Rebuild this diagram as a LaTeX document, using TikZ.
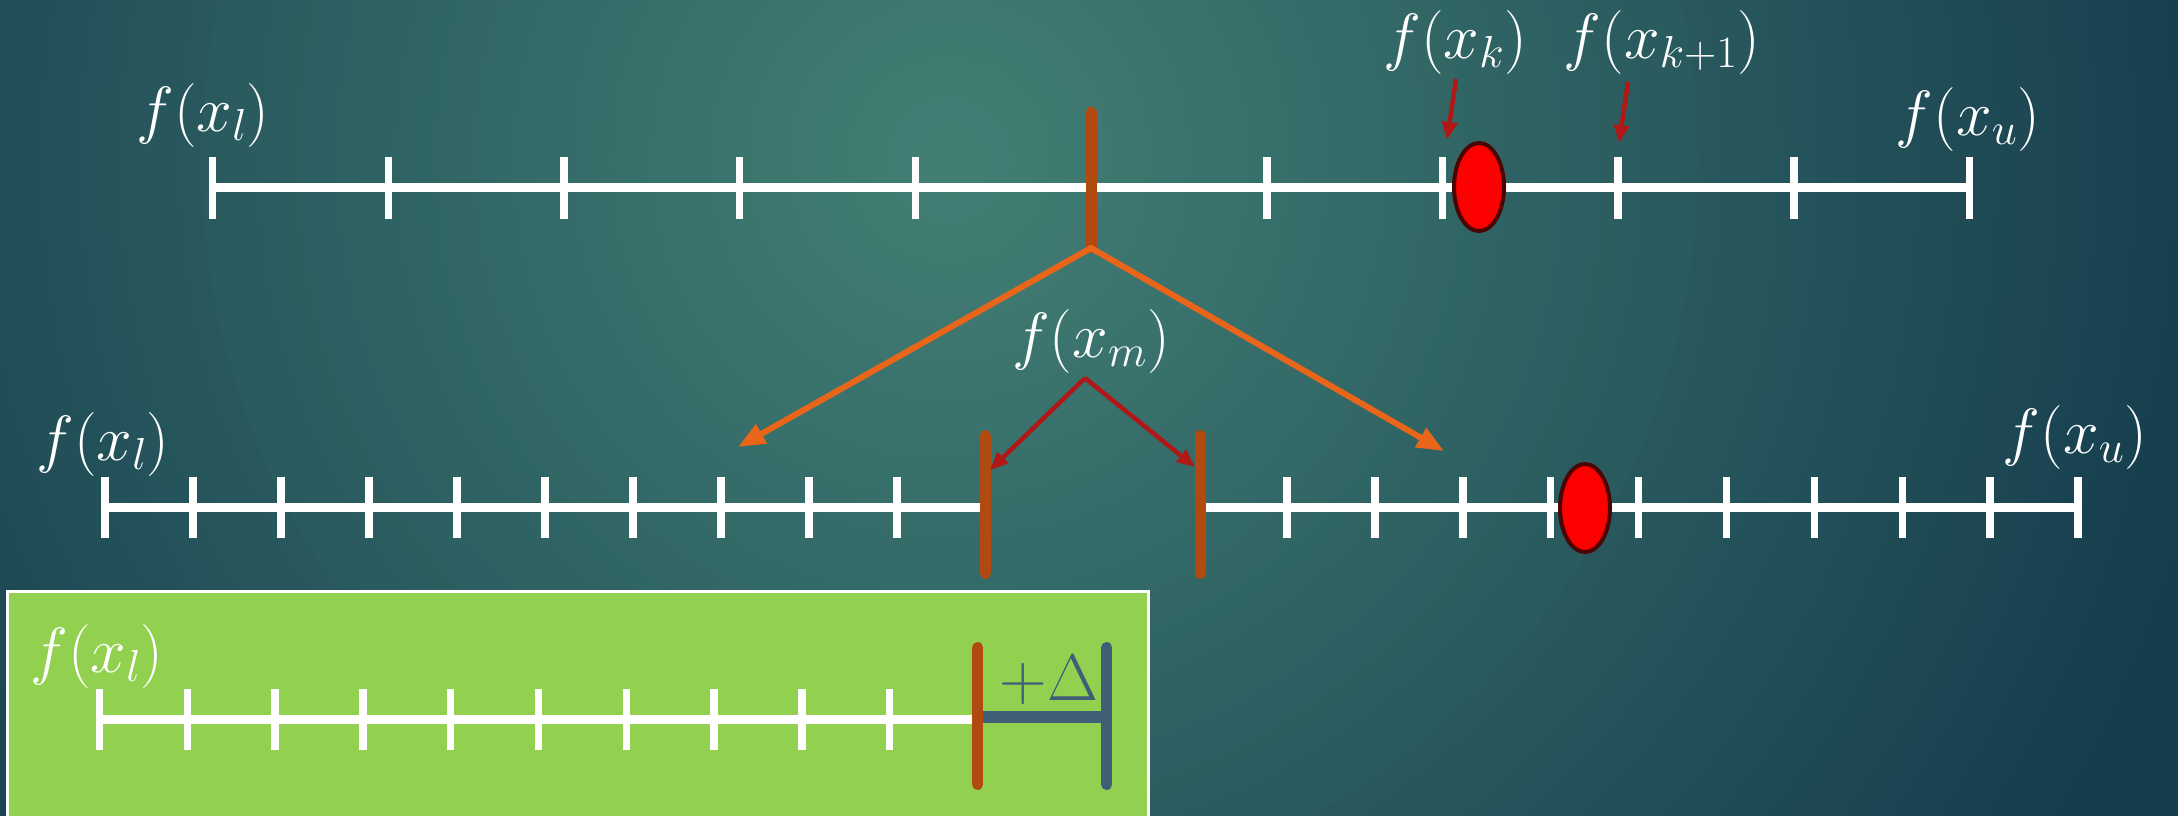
\documentclass[tikz,border=0pt]{standalone}
\usepackage{fix-cm}
\usetikzlibrary{arrows.meta,shapes.geometric}
\definecolor{bgin}{HTML}{427E74}
\definecolor{bgout}{HTML}{153D4D}
\definecolor{barorange}{HTML}{B04A10}
\definecolor{arroworange}{HTML}{E8651A}
\definecolor{darkred}{HTML}{B01818}
\definecolor{ellborder}{HTML}{4A0505}
\definecolor{boxgreen}{HTML}{92D050}
\definecolor{slate}{HTML}{3E5F75}
\tikzset{
  lab/.style={text=white, inner sep=0pt, font=\fontsize{64}{64}\selectfont},
  axisline/.style={draw=white, line width=8.5pt},
  tickmark/.style={draw=white, line width=7.5pt},
  midbar/.style={draw=barorange, line width=11pt, line cap=round},
  slatebar/.style={draw=slate, line width=11pt, line cap=round},
  splitarrow/.style={draw=arroworange, line width=6pt, line cap=round, -{Triangle[length=27pt,width=21pt]}},
  pointarrow/.style={draw=darkred, line width=4.5pt, -{Triangle[length=18pt,width=15pt]}},
  dot/.style={ellipse, draw=ellborder, fill=red, line width=4pt, minimum width=50pt, minimum height=88pt, inner sep=0pt},
}
\begin{document}
\begin{tikzpicture}[x=1pt,y=-1pt]
\useasboundingbox (0,0) rectangle (2178,815);
\begin{scope}
  \clip (-4,-4) rectangle (2182,819);
  \fill[bgout] (-4,-4) rectangle (2182,819);
  \foreach \i in {0,...,64}{
    \pgfmathsetmacro\rr{1300*(1-\i/66)}
    \pgfmathsetmacro\pp{100*\i/64}
    \fill[bgin!\pp!bgout] (950,160) circle[radius=\rr pt];
  }
  % green box
  \draw[draw=white, line width=3pt, fill=boxgreen] (7.7,591.7) rectangle (1148,840);
\end{scope}

% ---------- top row ----------
\coordinate (t0) at (212.6,187.5);
\coordinate (t1) at (1969.6,187.5);
\draw[axisline] (t0) -- (t1);
\foreach \k in {0,1,2,3,4,6,7,8,9,10}
  \draw[tickmark] ({212.6+175.7*\k},157) -- ++(0,62);
\coordinate (bartop) at (1091,112);
\coordinate (apex) at (1091,248);
\draw[midbar] (bartop) -- (apex);
\node[dot] (dot1) at (1479,187) {};

\node[lab] (fl1) at (203,115) {$f(x_l)$};
\node[lab] (fu1) at (1968,119) {$f(x_u)$};
\node[lab] (fk) at (1455,42) {$f(x_k)$};
\node[lab] (fk1) at (1662,42) {$f(x_{k+1})$};

\coordinate (ka) at (1456,79);
\coordinate (kb) at (1447,140);
\coordinate (ka1) at (1628,82);
\coordinate (kb1) at (1619,143);
\draw[pointarrow] (ka) -- (kb);
\draw[pointarrow] (ka1) -- (kb1);

% ---------- split arrows ----------
\coordinate (tipL) at (738,447);
\coordinate (tipR) at (1444,451);
\draw[splitarrow] (apex) -- (tipL);
\draw[splitarrow] (apex) -- (tipR);

\node[lab] (fm) at (1091,341) {$f(x_m)$};
\coordinate (mapex) at (1085,378);
\coordinate (mL) at (990,470);
\coordinate (mR) at (1195,467);
\draw[pointarrow] (mapex) -- (mL);
\draw[pointarrow] (mapex) -- (mR);

% ---------- second row ----------
\coordinate (l0) at (104.8,507.7);
\coordinate (l1) at (985,507.7);
\draw[axisline] (l0) -- (l1);
\foreach \k in {0,...,9}
  \draw[tickmark] ({104.8+88*\k},477) -- ++(0,61);
\coordinate (r0) at (1200,507.7);
\coordinate (r1) at (2078,507.7);
\draw[axisline] (r0) -- (r1);
\foreach \k in {0,...,9}
  \draw[tickmark] ({1287+87.9*\k},477) -- ++(0,61);
\coordinate (lbt) at (985,435.5);
\coordinate (lbb) at (985,573.5);
\coordinate (rbt) at (1200,435.5);
\coordinate (rbb) at (1200,573.5);
\draw[midbar] (lbt) -- (lbb);
\draw[midbar] (rbt) -- (rbb);
\node[dot] (dot2) at (1585,508) {};

\node[lab] (fl2) at (103,444) {$f(x_l)$};
\node[lab] (fu2) at (2075,437) {$f(x_u)$};

% ---------- third row (green box) ----------
\coordinate (g0) at (99.5,719.5);
\coordinate (g1) at (977.7,719.5);
\draw[axisline] (g0) -- (g1);
\foreach \k in {0,...,9}
  \draw[tickmark] ({99.5+87.8*\k},689) -- ++(0,61);
\coordinate (gm) at (977.7,717);
\coordinate (gd) at (1106.7,717);
\draw[draw=slate, line width=12pt] (gm) -- (gd);
\coordinate (gbt) at (977.7,647.5);
\coordinate (gbb) at (977.7,784.5);
\coordinate (dbt) at (1106.7,647.5);
\coordinate (dbb) at (1106.7,784.5);
\draw[midbar] (gbt) -- (gbb);
\draw[slatebar] (dbt) -- (dbb);

\node[lab] (fl3) at (97,656) {$f(x_l)$};
\node[inner sep=0pt, text=slate, font=\fontsize{66}{66}\selectfont] (delta) at (1049,680) {$+\Delta$};
\end{tikzpicture}
\end{document}
